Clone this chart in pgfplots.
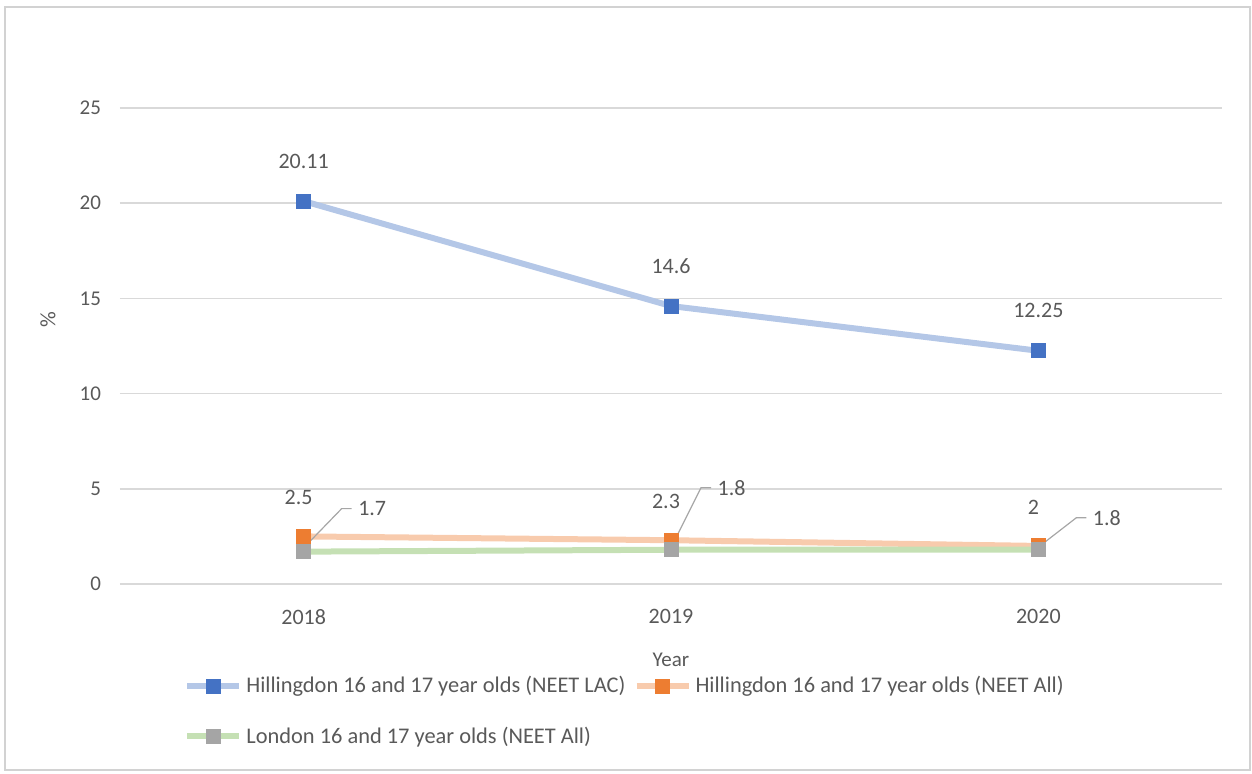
\documentclass[border=0pt]{standalone}
\usepackage{pgfplots}
\pgfplotsset{compat=1.18}
\usepackage{fontspec}
\setmainfont{Carlito}
\definecolor{txt}{HTML}{595959}
\definecolor{gridc}{HTML}{D9D9D9}
\definecolor{blueM}{HTML}{4472C4}
\definecolor{blueL}{HTML}{B4C7E7}
\definecolor{orangeM}{HTML}{ED7D31}
\definecolor{orangeL}{HTML}{F8CBAD}
\definecolor{grayM}{HTML}{A5A5A5}
\definecolor{greenL}{HTML}{C5E0B4}
\begin{document}
\begin{tikzpicture}
\useasboundingbox (-60pt,-94.5pt) rectangle (566pt,292pt);
\draw[gray!35, line width=0.8pt] (-57.5pt,-93pt) rectangle (565pt,288.5pt);
\begin{axis}[
    at={(0,0)}, anchor=south west,
    scale only axis, width=551pt, height=238pt,
    xmin=-0.5, xmax=2.5, ymin=0, ymax=25,
    xtick={0,1,2}, xticklabels={2018,2019,2020},
    ytick={0,5,10,15,20,25},
    axis line style={draw=none},
    major tick length=0pt,
    ymajorgrids, grid style={gridc, line width=0.8pt},
    font=\fontsize{10.5}{12}\selectfont, color=txt,
    /pgf/number format/assume math mode=true,
    yticklabel style={xshift=-6pt, text=txt},
    xticklabel style={yshift=-9pt, text=txt, font=\fontsize{11}{12}\selectfont},
    xlabel={Year}, ylabel={\%},
    x label style={at={(axis description cs:0.5,0)}, anchor=center, yshift=-38pt, text=txt},
    y label style={at={(axis description cs:-0.0653,0.555)}, anchor=center, text=txt, font=\fontsize{11}{12}\selectfont},
    legend columns=2,
    legend style={at={(axis description cs:0,0)}, anchor=north west, xshift=32pt, yshift=-44pt,
        draw=none, fill=none, text=txt, font=\fontsize{11.2}{13}\selectfont,
        /tikz/every even column/.append style={column sep=2pt},
        row sep=11.5pt, inner sep=0pt},
    legend cell align=left,
    legend image code/.code={\draw[mark repeat=2, mark phase=2, #1] plot coordinates {(0pt,0pt) (13pt,0pt) (26pt,0pt)};},
]
\addplot[blueL, line width=3pt, mark=square*, mark size=3.5pt,
    mark options={blueM, line width=0pt, fill=blueM},
    nodes near coords, nodes near coords style={anchor=center, yshift=20pt, text=txt, font=\fontsize{11}{12}\selectfont}]
    coordinates {(0,20.11) (1,14.6) (2,12.25)};
\addlegendentry{Hillingdon 16 and 17 year olds (NEET LAC)}
\addplot[orangeL, line width=3pt, mark=square*, mark size=3.5pt,
    mark options={orangeM, line width=0pt, fill=orangeM},
    nodes near coords, nodes near coords style={anchor=center, xshift=-2.5pt, yshift=19.5pt, text=txt, font=\fontsize{11}{12}\selectfont}]
    coordinates {(0,2.5) (1,2.3) (2,2)};
\addlegendentry{Hillingdon 16 and 17 year olds (NEET All)}
\addplot[greenL, line width=3pt, mark=square*, mark size=3.5pt,
    mark options={grayM, line width=0pt, fill=grayM}]
    coordinates {(0,1.7) (1,1.8) (2,1.8)};
\addlegendentry{London 16 and 17 year olds (NEET All)}
\draw[gray!70, line width=0.6pt] ([xshift=3pt,yshift=5pt]axis cs:0,1.7) -- ++(16pt,16.5pt) -- ++(5pt,0pt)
    node[right, inner sep=3pt, text=txt, font=\fontsize{11}{12}\selectfont]{1.7};
\draw[gray!70, line width=0.6pt] ([xshift=2.5pt,yshift=6pt]axis cs:1,1.8) -- ++(12.5pt,25pt) -- ++(5pt,0pt)
    node[right, inner sep=3pt, text=txt, font=\fontsize{11}{12}\selectfont]{1.8};
\draw[gray!70, line width=0.6pt] ([xshift=3.5pt,yshift=4pt]axis cs:2,1.8) -- ++(15.5pt,12pt) -- ++(5pt,0pt)
    node[right, inner sep=3pt, text=txt, font=\fontsize{11}{12}\selectfont]{1.8};
\end{axis}
\end{tikzpicture}
\end{document}
